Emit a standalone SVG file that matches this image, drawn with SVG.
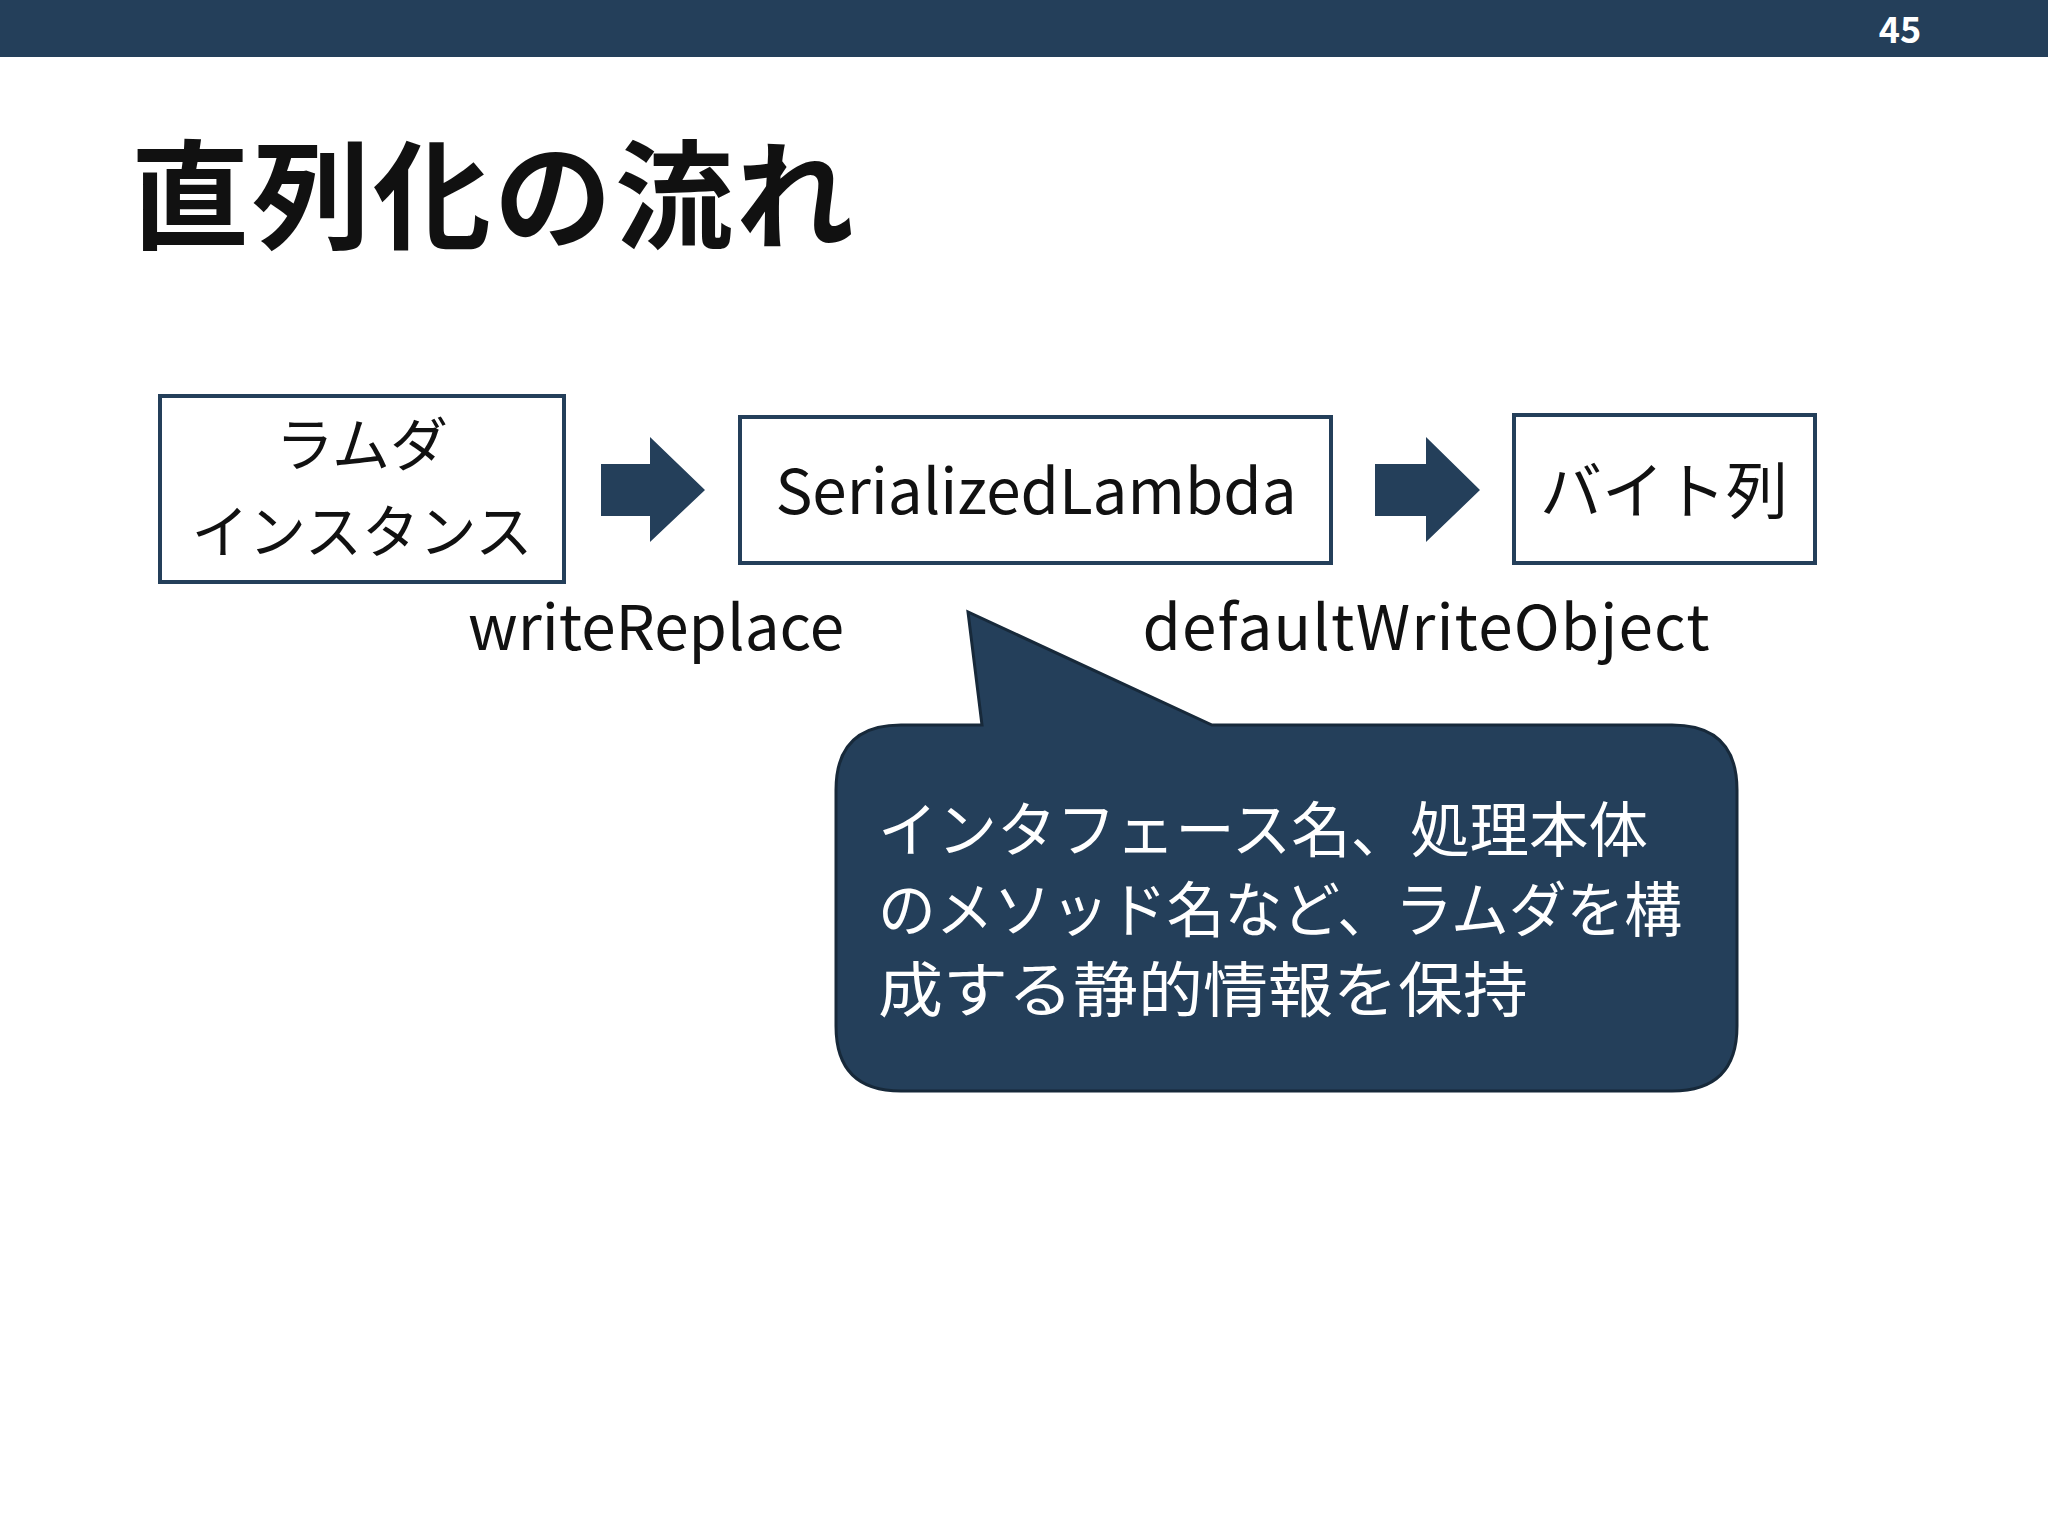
<svg xmlns="http://www.w3.org/2000/svg" width="2048" height="1536" viewBox="0 0 2048 1536">
<style>
text{font-family:"Noto Sans CJK JP","Noto Sans",sans-serif}
.box{fill:#fff;stroke:#243f5a;stroke-width:4}
.lbl{font-size:62px;fill:#111;text-anchor:middle}
.arr{fill:#243f5a}
</style>
<rect width="2048" height="1536" fill="#fff"/>
<rect width="2048" height="57" fill="#243f5a"/>
<text x="1900" y="43" font-size="36" font-weight="bold" fill="#fff" text-anchor="middle">45</text>
<text x="131" y="240" font-size="118" font-weight="bold" fill="#111" textLength="723" lengthAdjust="spacing">直列化の流れ</text>
<g id="n1"><rect class="box" x="160" y="396" width="404" height="186"/>
<text class="lbl" x="362" y="466" font-size="58" style="font-size:58px">ラムダ</text><text class="lbl" x="362" y="553" style="font-size:58px" textLength="341" lengthAdjust="spacingAndGlyphs">インスタンス</text></g>
<g id="n2"><rect class="box" x="740" y="417" width="591" height="146"/>
<text class="lbl" x="1036" y="514">SerializedLambda</text></g>
<g id="n3"><rect class="box" x="1514" y="415" width="301" height="148"/>
<text class="lbl" x="1664" y="514">バイト列</text></g>
<g id="connectors">
<polygon class="arr" points="601,464 650,464 650,437 705,490 650,542 650,516 601,516"/>
<polygon class="arr" points="1375,464 1426,464 1426,437 1480,490 1426,542 1426,516 1375,516"/>
<text class="lbl" x="656" y="650">writeReplace</text>
<text class="lbl" x="1426" y="650" textLength="567" lengthAdjust="spacing">defaultWriteObject</text>
</g>
<g id="callout">
<path fill="#243f5a" stroke="#17293a" stroke-width="3" d="M901,725 H982 L968,612 L1212,725 H1672 Q1737,725 1737,790 V1026 Q1737,1091 1672,1091 H901 Q836,1091 836,1026 V790 Q836,725 901,725 Z"/>
<g font-size="60" fill="#fff"><text x="878" y="852" textLength="770" lengthAdjust="spacingAndGlyphs">インタフェース名、処理本体</text>
<text x="878" y="932" textLength="804" lengthAdjust="spacingAndGlyphs">のメソッド名など、ラムダを構</text>
<text x="878" y="1012" textLength="650" lengthAdjust="spacingAndGlyphs">成する静的情報を保持</text></g>
</g>
</svg>
